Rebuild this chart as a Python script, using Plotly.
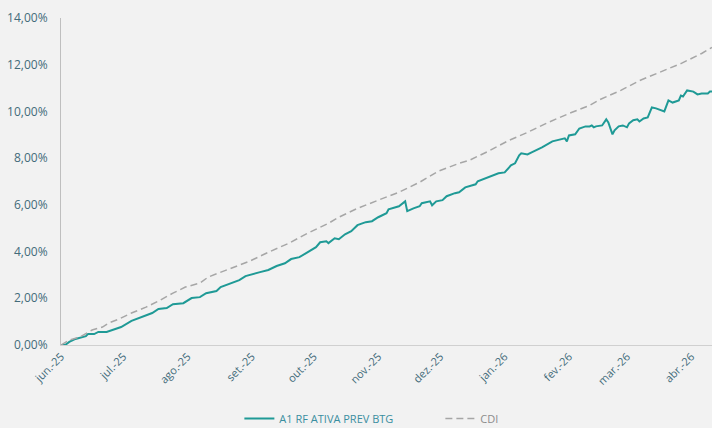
import plotly.graph_objects as go

fund_dates = [
    "2025-06-01", "2025-06-03", "2025-06-05", "2025-06-08", "2025-06-13", "2025-06-14", "2025-06-17",
    "2025-06-19", "2025-06-23", "2025-06-26", "2025-06-30", "2025-07-05", "2025-07-10", "2025-07-15",
    "2025-07-18", "2025-07-22", "2025-07-25", "2025-07-28", "2025-07-30", "2025-08-03", "2025-08-07",
    "2025-08-10", "2025-08-15", "2025-08-17", "2025-08-21", "2025-08-26", "2025-08-29", "2025-09-02",
    "2025-09-05", "2025-09-09", "2025-09-13", "2025-09-17", "2025-09-20", "2025-09-24", "2025-09-28",
    "2025-10-02", "2025-10-04", "2025-10-07", "2025-10-08", "2025-10-11", "2025-10-13", "2025-10-16",
    "2025-10-19", "2025-10-22", "2025-10-26", "2025-10-29", "2025-11-01", "2025-11-05", "2025-11-06",
    "2025-11-09", "2025-11-11", "2025-11-14", "2025-11-15", "2025-11-18", "2025-11-21", "2025-11-22",
    "2025-11-26", "2025-11-27", "2025-11-29", "2025-12-02", "2025-12-04", "2025-12-08", "2025-12-10",
    "2025-12-13", "2025-12-18", "2025-12-19", "2025-12-24", "2025-12-29", "2026-01-01", "2026-01-04",
    "2026-01-06", "2026-01-08", "2026-01-09", "2026-01-12", "2026-01-14", "2026-01-17", "2026-01-19",
    "2026-01-24", "2026-01-27", "2026-01-30", "2026-01-31", "2026-02-01", "2026-02-04", "2026-02-06",
    "2026-02-09", "2026-02-11", "2026-02-12", "2026-02-13", "2026-02-14", "2026-02-17", "2026-02-19",
    "2026-02-20", "2026-02-22", "2026-02-23", "2026-02-25", "2026-02-27", "2026-03-01", "2026-03-02",
    "2026-03-04", "2026-03-06", "2026-03-07", "2026-03-09", "2026-03-11", "2026-03-13", "2026-03-15",
    "2026-03-19", "2026-03-21", "2026-03-23", "2026-03-26", "2026-03-27", "2026-03-28", "2026-03-30",
    "2026-04-02", "2026-04-04", "2026-04-06", "2026-04-09", "2026-04-10", "2026-04-11",
]
fund_values = [
    0.00, 0.00, 0.13, 0.26, 0.38, 0.47, 0.47,
    0.56, 0.56, 0.64, 0.77, 1.03, 1.20, 1.37,
    1.54, 1.58, 1.75, 1.79, 1.79, 2.01, 2.05,
    2.22, 2.31, 2.48, 2.61, 2.78, 2.95, 3.03,
    3.12, 3.21, 3.38, 3.50, 3.68, 3.76, 3.97,
    4.19, 4.40, 4.44, 4.36, 4.57, 4.53, 4.74,
    4.87, 5.13, 5.26, 5.30, 5.47, 5.64, 5.81,
    5.90, 5.94, 6.15, 5.73, 5.85, 5.94, 6.07,
    6.15, 5.98, 6.15, 6.20, 6.37, 6.50, 6.54,
    6.75, 6.88, 7.01, 7.18, 7.35, 7.39, 7.69,
    7.78, 8.12, 8.21, 8.16, 8.25, 8.38, 8.46,
    8.72, 8.80, 8.85, 8.72, 8.97, 9.02, 9.27,
    9.36, 9.36, 9.40, 9.32, 9.36, 9.40, 9.66,
    9.53, 9.02, 9.19, 9.36, 9.40, 9.32, 9.49,
    9.62, 9.66, 9.57, 9.70, 9.74, 10.17, 10.13,
    10.00, 10.47, 10.38, 10.47, 10.68, 10.64, 10.90,
    10.85, 10.73, 10.77, 10.77, 10.85, 10.85,
]

cdi_dates = [
    "2025-06-01", "2025-06-03", "2025-06-05", "2025-06-10", "2025-06-14", "2025-06-16", "2025-06-21",
    "2025-06-24", "2025-06-29", "2025-07-05", "2025-07-12", "2025-07-18", "2025-07-25", "2025-07-31",
    "2025-08-07", "2025-08-11", "2025-08-21", "2025-08-31", "2025-09-09", "2025-09-19", "2025-09-28",
    "2025-10-08", "2025-10-13", "2025-10-22", "2025-11-01", "2025-11-11", "2025-11-21", "2025-11-30",
    "2025-12-10", "2025-12-15", "2025-12-24", "2026-01-03", "2026-01-12", "2026-01-22", "2026-02-01",
    "2026-02-11", "2026-02-16", "2026-02-26", "2026-03-07", "2026-03-17", "2026-03-27", "2026-04-06",
    "2026-04-11",
]
cdi_values = [
    0.00, 0.09, 0.21, 0.34, 0.56, 0.64, 0.77,
    0.94, 1.11, 1.37, 1.62, 1.88, 2.22, 2.48,
    2.65, 2.91, 3.25, 3.59, 3.97, 4.36, 4.79,
    5.21, 5.47, 5.85, 6.20, 6.54, 6.97, 7.44,
    7.78, 7.91, 8.29, 8.76, 9.10, 9.53, 9.91,
    10.26, 10.51, 10.90, 11.32, 11.67, 12.05, 12.48,
    12.74,
]

tick_dates = [
    "2025-06-01", "2025-07-01", "2025-08-01", "2025-09-01", "2025-10-01", "2025-11-01",
    "2025-12-01", "2026-01-01", "2026-02-01", "2026-03-01", "2026-04-01",
]
tick_labels = [
    "jun.-25", "jul.-25", "ago.-25", "set.-25", "out.-25", "nov.-25",
    "dez.-25", "jan.-26", "fev.-26", "mar.-26", "abr.-26",
]
y_ticks = [0, 2, 4, 6, 8, 10, 12, 14]
y_labels = ["0,00%", "2,00%", "4,00%", "6,00%", "8,00%", "10,00%", "12,00%", "14,00%"]

fig = go.Figure()
fig.add_trace(go.Scatter(
    x=fund_dates, y=fund_values, mode="lines",
    name="<span style='color:#3a8ea0'>A1 RF ATIVA PREV BTG</span>",
    line=dict(color="#1f9a96", width=2),
))
fig.add_trace(go.Scatter(
    x=cdi_dates, y=cdi_values, mode="lines",
    name="<span style='color:#8c8c8c'>CDI</span>",
    line=dict(color="#a6a6a6", width=1.5, dash="7px,4px"),
))

fig.update_layout(
    width=712, height=428,
    margin=dict(l=61, r=0, t=18, b=83),
    paper_bgcolor="#f2f2f2", plot_bgcolor="#f2f2f2",
    font=dict(family="'Open Sans', sans-serif", size=12, color="#436b7a"),
    showlegend=True,
    legend=dict(
        orientation="h", x=0.274, xanchor="left",
        yref="container", y=0.022, yanchor="middle",
        font=dict(size=11), itemwidth=30, entrywidth=156, bgcolor="rgba(0,0,0,0)",
    ),
    xaxis=dict(
        type="date", range=["2025-06-01", "2026-04-11"], automargin=False,
        tickvals=tick_dates, ticktext=tick_labels, tickangle=-45,
        showgrid=False, zeroline=False, showline=True, linecolor="#d0d0d0", linewidth=1,
        ticks="", tickfont=dict(size=11, color="#436b7a"),
    ),
    yaxis=dict(
        range=[0, 14], tickvals=y_ticks, ticktext=y_labels, automargin=False,
        showgrid=False, zeroline=False, showline=True, linecolor="#bfbfbf", linewidth=1,
        ticks="", ticklabelstandoff=10, tickfont=dict(size=12, color="#436b7a"),
    ),
)

fig.write_html(
    "out.html",
    config={"displayModeBar": False},
    post_script="document.body.style.margin='0';document.body.style.background='#f2f2f2';",
)
